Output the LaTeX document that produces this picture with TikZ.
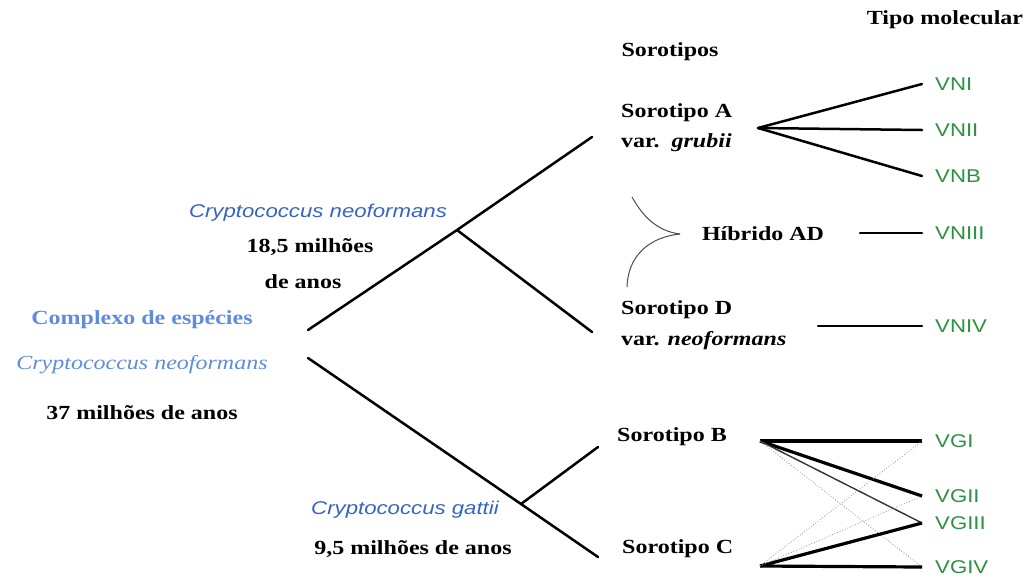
\documentclass[tikz,border=0pt]{standalone}
\usepackage{fontspec}
\setmainfont[FakeStretch=1.2]{Liberation Serif}
\setsansfont[FakeStretch=1.2]{Liberation Sans}
\definecolor{azul}{RGB}{55,100,195}
\definecolor{azulclaro}{RGB}{95,140,220}
\definecolor{verde}{RGB}{45,145,65}

\begin{document}
\begin{tikzpicture}[x=1pt, y=-1pt,
	rotulo/.style={font=\fontsize{20}{24}\selectfont\bfseries, inner sep=0pt},
	especie/.style={font=\fontsize{18.5}{22}\selectfont\sffamily\itshape, text=azul, inner sep=0pt},
	tipo/.style={font=\fontsize{18.5}{22}\selectfont\sffamily, text=verde, anchor=west, inner xsep=13pt, inner ysep=0pt},
	ramo/.style={line width=2.5pt, black, line cap=round},
	forte/.style={line width=3.2pt, black},
	fraco/.style={line width=1.4pt, black!80},
	pontilhado/.style={line width=0.8pt, black!45, dotted}]
				\useasboundingbox (0,0) rectangle (1027,582);
				\node[rotulo] (tipomol) at (945,20) {Tipo molecular};
				\node[rotulo] (sorotipos) at (670,52) {Sorotipos};
				\node[rotulo, anchor=west] (soroA) at (621,113) {Sorotipo A};
				\node[rotulo, anchor=west] (grubii) at (621,143) {var.\ \ \textit{grubii}};
				\node[rotulo, anchor=west] (soroD) at (621,310) {Sorotipo D};
				\node[rotulo, anchor=west] (neof) at (621,341) {var. \textit{neoformans}};
				\node[rotulo, anchor=west] (soroB) at (617,437) {Sorotipo B};
				\node[rotulo, anchor=west] (soroC) at (622,549) {Sorotipo C};
				\node[rotulo] (hibrido) at (763,234) {Híbrido AD};
				\node[especie] (cneo) at (318,213) {Cryptococcus neoformans};
				\node[rotulo] (idade1) at (310,247) {18,5 milhões};
				\node[rotulo] (idade1b) at (303,282) {de anos};
				\node[rotulo, text=azulclaro] (complexo) at (142,320) {Complexo de espécies};
				\node[rotulo, font=\fontsize{20}{24}\selectfont\itshape, text=azulclaro] (cneo2) at (142,365) {Cryptococcus neoformans};
				\node[rotulo] (idade0) at (142,413) {37 milhões de anos};
				\node[especie] (cgat) at (405,510) {Cryptococcus gattii};
				\node[rotulo] (idade2) at (413,549) {9,5 milhões de anos};
				\node[tipo] (vni) at (922,84) {VNI};
				\node[tipo] (vnii) at (922,130) {VNII};
				\node[tipo] (vnb) at (922,176) {VNB};
				\node[tipo] (vniii) at (922,233) {VNIII};
				\node[tipo] (vniv) at (922,326) {VNIV};
				\node[tipo] (vgi) at (922,441) {VGI};
				\node[tipo] (vgii) at (922,496) {VGII};
				\node[tipo] (vgiii) at (922,523) {VGIII};
				\node[tipo] (vgiv) at (922,567) {VGIV};
				\coordinate (raiz1) at (308,330);
				\coordinate (raiz2) at (308,358);
				\coordinate (div1) at (457,230);
				\coordinate (div2) at (521,504);
				\coordinate (fimA) at (592,137);
				\coordinate (fimD) at (592,332);
				\coordinate (fimB) at (598,447);
				\coordinate (fimC) at (598,557);
				\coordinate (saiA) at (758,128);
				\coordinate (saiH) at (860,233);
				\coordinate (saiD) at (818,326);
				\coordinate (saiB) at (760,441);
				\coordinate (saiC) at (760,566);
				\coordinate (ponta) at (680,234);
				\draw[ramo] (raiz1) -- (div1) -- (fimA);
				\draw[ramo] (div1) -- (fimD);
				\draw[ramo] (raiz2) -- (div2) -- (fimC);
				\draw[ramo] (div2) -- (fimB);
				\draw[ramo] (saiA) -- (vni.west);
				\draw[ramo] (saiA) -- (vnii.west);
				\draw[ramo] (saiA) -- (vnb.west);
				\draw[ramo] (saiH) -- (vniii.west);
				\draw[ramo] (saiD) -- (vniv.west);
				\draw[line width=1pt, black!70] (632,197) .. controls (642,215) and (656,231) .. (ponta);
				\draw[line width=1pt, black!70] (627,287) .. controls (628,255) and (650,237) .. (ponta);
				\draw[forte] (saiB) -- (vgi.west);
				\draw[forte] (saiB) -- (vgii.west);
				\draw[fraco] (saiB) -- (vgiii.west);
				\draw[pontilhado] (saiB) -- (vgiv.west);
				\draw[forte] (saiC) -- (vgiv.west);
				\draw[forte] (saiC) -- (vgiii.west);
				\draw[pontilhado] (saiC) -- (vgi.west);
				\draw[pontilhado] (saiC) -- (vgii.west);
\end{tikzpicture}
\end{document}
